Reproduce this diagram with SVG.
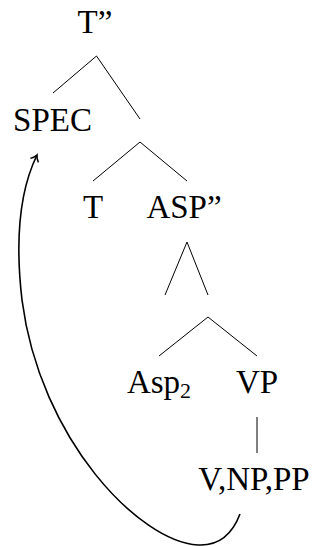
<svg xmlns="http://www.w3.org/2000/svg" width="320" height="546" viewBox="0 0 320 546">
<style>
text{font-family:"Liberation Serif","Times New Roman",serif;font-size:33px;fill:#000;text-anchor:middle}
.e{stroke:#000;stroke-width:1;fill:none}
.mv{stroke:#000;stroke-width:1.6;fill:none}
</style>
<defs>
<marker id="ah" markerWidth="12" markerHeight="12" refX="9" refY="6" orient="auto" markerUnits="userSpaceOnUse">
<path d="M3,1.5 Q6,5 9,6 Q6,7 3,10.5" fill="none" stroke="#000" stroke-width="1.4"/>
</marker>
</defs>
<rect width="320" height="546" fill="#fff"/>
<g id="connectors">
<line class="e" x1="96.5" y1="56" x2="53" y2="93"/>
<line class="e" x1="96.5" y1="56" x2="140" y2="119"/>
<line class="e" x1="140" y1="142" x2="93" y2="181"/>
<line class="e" x1="140" y1="142" x2="187" y2="181"/>
<line class="e" x1="187" y1="242" x2="165" y2="295"/>
<line class="e" x1="187" y1="242" x2="208" y2="295"/>
<line class="e" x1="208" y1="317" x2="159" y2="356"/>
<line class="e" x1="208" y1="317" x2="257" y2="356"/>
<line class="e" x1="257" y1="417" x2="257" y2="453"/>
<path class="mv" d="M240,514 C232,535 218,546 198,545 C140,542 40,440 22,300 C15,240 20,190 37,155" marker-end="url(#ah)"/>
</g>
<g id="n-T2"><text x="95" y="33">T”</text></g>
<g id="n-SPEC"><text x="52.5" y="131">SPEC</text></g>
<g id="n-T"><text x="93" y="218">T</text></g>
<g id="n-ASP2"><text x="184" y="218">ASP”</text></g>
<g id="n-Asp2"><text x="159" y="393">Asp<tspan font-size="22" dy="5">2</tspan></text></g>
<g id="n-VP"><text x="257" y="393">VP</text></g>
<g id="n-VNPPP"><text x="254" y="490">V,NP,PP</text></g>
</svg>
